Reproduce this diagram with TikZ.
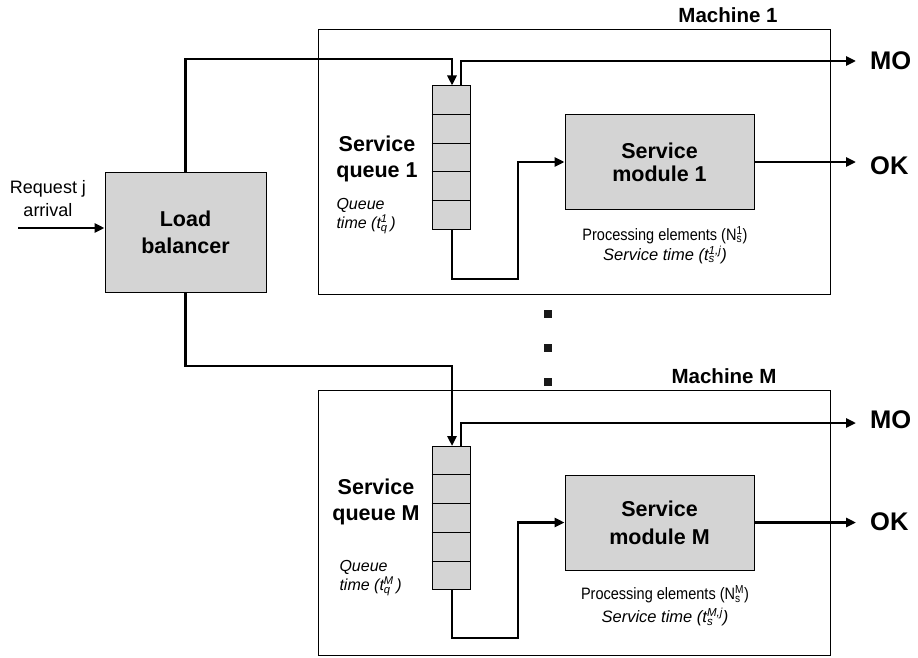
\documentclass[tikz,border=0pt]{standalone}
\usepackage{fontspec}
\setmainfont{Liberation Sans}
\newfontfamily\narrowfont[FakeStretch=0.88]{Liberation Sans}
\usetikzlibrary{arrows.meta,calc}
\definecolor{boxgray}{HTML}{D4D4D4}
\newsavebox\supbox
\newsavebox\subbox
\newcommand\subsup[2]{\sbox\supbox{\textsuperscript{#2}}\sbox\subbox{\textsubscript{#1}}%
  \ifdim\wd\supbox>\wd\subbox\rlap{\usebox\subbox}\usebox\supbox\else\rlap{\usebox\supbox}\usebox\subbox\fi}
\tikzset{
  machine/.style={draw, line width=1pt, minimum width=512pt, minimum height=264pt},
  unit/.style={draw, fill=boxgray, line width=1pt, align=center},
  queuebox/.style={draw, fill=boxgray, line width=1pt, minimum width=38pt, minimum height=143pt},
  conn/.style={line width=2.6pt},
  tip/.style={-{Triangle[length=10pt,width=9pt]}},
  big/.style={font=\fontsize{21.5}{26}\selectfont\bfseries, align=center},
  small/.style={font=\fontsize{16}{19}\selectfont\itshape, align=left},
  outlbl/.style={font=\fontsize{25.5}{28}\selectfont\bfseries, anchor=west, inner sep=0pt}
}
\begin{document}
\begin{tikzpicture}[x=1pt,y=-1pt]
\useasboundingbox (0,0) rectangle (918,658);
% machines
\node[machine] (m1) at (574,162) {};
\node[machine, minimum height=265pt] (m2) at (574,522.5) {};
\node[font=\fontsize{20.5}{22}\selectfont\bfseries] (m1lbl) at (728,15) {Machine 1};
\node[font=\fontsize{20.5}{22}\selectfont\bfseries] (m2lbl) at (724,376) {Machine M};
% dots between machines
\foreach \y/\n in {314/a,348/b,382/c}
  \node[fill=black!90, inner sep=0pt, minimum size=8pt] (dot\n) at (548,\y) {};
% load balancer
\node[unit, minimum width=161pt, minimum height=120pt, font=\fontsize{21.5}{27}\selectfont\bfseries] (lb) at (185.5,232) {Load\\balancer};
\node[font=\fontsize{18}{23}\selectfont, align=center] (req) at (48,199) {Request j\\arrival};
\coordinate (in) at (18,228);
\draw[conn,tip] (in) -- (in -| lb.west);
% queues
\node[queuebox] (q1) at (451,157.5) {};
\node[queuebox] (q2) at (451,518) {};
\foreach \q in {q1,q2}
  \foreach \k in {1,...,4}
    \draw[line width=1pt] ($(\q.north west)!\k/5!(\q.south west)$) -- ($(\q.north east)!\k/5!(\q.south east)$);
\node[big] (q1lbl) at (377,159) {Service\\queue 1};
\node[big] (q2lbl) at (376,502) {Service\\queue M};
\node[small, anchor=west] (q1t) at (333,216) {Queue\\time (t\subsup{q}{1}\,)};
\node[small, anchor=west] (q2t) at (336,578) {Queue\\time (t\subsup{q}{M}\,)};
% service modules
\node[unit, minimum width=189pt, minimum height=94pt, font=\fontsize{21.5}{23}\selectfont\bfseries] (s1) at (659.5,162) {Service\\module 1};
\node[unit, minimum width=189pt, minimum height=95pt, font=\fontsize{21.5}{28}\selectfont\bfseries] (s2) at (659.5,522.5) {Service\\module M};
\node[align=center, font=\fontsize{16.5}{20}\selectfont] (s1t) at (665,245) {{\narrowfont Processing elements (N\subsup{s}{1})}\\\itshape Service time (t\subsup{s}{1,j})};
\node[align=center, font=\fontsize{16.5}{23}\selectfont] (s2t) at (665,606) {{\narrowfont Processing elements (N\subsup{s}{M})}\\\itshape Service time (t\subsup{s}{M,j})};
% outputs
\node[outlbl] (mo1) at (870,61) {MO};
\node[outlbl] (ok1) at (870,166) {OK};
\node[outlbl] (mo2) at (870,420) {MO};
\node[outlbl] (ok2) at (870,522) {OK};
% connectors, machine 1
\coordinate (top1) at (452,59);
\draw[conn,tip] (lb.north) |- (top1) -- (top1 |- q1.north);
\draw[conn,tip] ([xshift=10pt]q1.north) |- ([xshift=-14pt]mo1.west);
\coordinate (bot1) at (518,279);
\draw[conn,tip] ([xshift=1pt]q1.south) |- (bot1) |- (s1.west);
\draw[conn,tip] (s1.east) -- ([xshift=-14pt]s1.east -| ok1.west);
% connectors, machine M
\coordinate (top2) at (452,366);
\draw[conn,tip] (lb.south) |- (top2) -- (top2 |- q2.north);
\draw[conn,tip] ([xshift=10pt]q2.north) |- ([xshift=-14pt,yshift=-3pt]mo2.west);
\coordinate (bot2) at (518,638);
\draw[conn,tip] ([xshift=1pt]q2.south) |- (bot2) |- (s2.west);
\draw[conn,tip] (s2.east) -- ([xshift=-14pt]s2.east -| ok2.west);
\end{tikzpicture}
\end{document}
